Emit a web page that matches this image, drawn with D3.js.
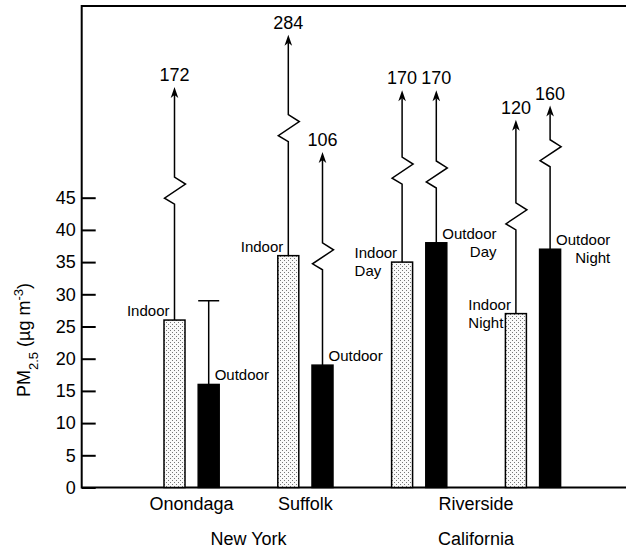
<!DOCTYPE html>
<html lang="en">
<head>
<meta charset="UTF-8">
<title>PM2.5 indoor vs outdoor</title>
<script src="https://d3js.org/d3.v7.min.js"></script>
<style>
body {
  margin: 0;
  background: white;
  font-family: "Liberation Sans", Arial, Helvetica, sans-serif;
}
</style>
</head>
<body>
<div id="chart"></div>
<script>
// site groups along the x axis
var groups = ["Onondaga", "Suffolk", "Riverside Day", "Riverside Night"];
var kinds = ["Indoor", "Outdoor"];

// mean PM2.5 (ug m-3)
var indoorMean = [26, 36, 35, 27];
var outdoorMean = [16, 19, 38, 37];

// maximum values (shown as numbers above the broken lines)
var indoorMax = [172, 284, 170, 120];
var outdoorMax = [29, 106, 170, 160];

// where the broken lines are drawn, in axis units (not to scale above 45)
var indoorBreak = [48.2, 57.9, 51.3, 44.2];
var outdoorBreak = [null, 38.0, 50.7, 54.0];
var indoorTip = [62.2, 70.3, 61.7, 57.1];
var outdoorTip = [null, 52.1, 61.7, 59.3];

// bar labels
var indoorLabels = [["Indoor"], ["Indoor"], ["Indoor", "Day"], ["Indoor", "Night"]];
var outdoorLabels = [["Outdoor"], ["Outdoor"], ["Outdoor", "Day"], ["Outdoor", "Night"]];

// x axis labels
var siteNames = ["Onondaga", "Suffolk", "Riverside"];
var siteGroups = [["Onondaga"], ["Suffolk"], ["Riverside Day", "Riverside Night"]];
var stateNames = ["New York", "California"];
var stateGroups = [["Onondaga", "Suffolk"], ["Riverside Day", "Riverside Night"]];

var yTicks = [0, 5, 10, 15, 20, 25, 30, 35, 40, 45];

var W = 626, H = 550;
var axisX = 81.7, topY = 6, baseY = 487.5;

var svg = d3.select("#chart")
  .append("svg")
    .attr("width", W)
    .attr("height", H);

// stipple pattern for the indoor bars
var pat = svg.append("defs").append("pattern")
    .attr("id", "stipple")
    .attr("patternUnits", "userSpaceOnUse")
    .attr("width", 4)
    .attr("height", 4);
pat.append("rect").attr("width", 4).attr("height", 4).attr("fill", "#fafafa");
pat.append("rect").attr("x", 0).attr("y", 0).attr("width", 1).attr("height", 1).attr("fill", "#777");
pat.append("rect").attr("x", 2).attr("y", 2).attr("width", 1).attr("height", 1).attr("fill", "#777");

var y = d3.scaleLinear()
  .domain([0, 45])
  .range([baseY, 197.7]);

var x0 = d3.scaleBand()
  .domain(groups)
  .range([134.7, 589.9]);

var x1 = d3.scaleBand()
  .domain(kinds)
  .range([0, x0.bandwidth()])
  .paddingInner(0.386)
  .paddingOuter(0.857);

// build rows
var rows = [];
groups.forEach(function(g, i) {
  rows.push({group: g, kind: "Indoor", mean: indoorMean[i], max: indoorMax[i],
             brk: indoorBreak[i], tip: indoorTip[i], label: indoorLabels[i], side: "left"});
  rows.push({group: g, kind: "Outdoor", mean: outdoorMean[i], max: outdoorMax[i],
             brk: outdoorBreak[i], tip: outdoorTip[i], label: outdoorLabels[i], side: "right"});
});
function cx(d) { return x0(d.group) + x1(d.kind) + x1.bandwidth() / 2; }

// y axis
var yAxis = svg.append("g")
  .attr("transform", "translate(" + axisX + ",0)")
  .call(d3.axisLeft(y).tickValues(yTicks).tickSizeInner(-14).tickSizeOuter(0).tickPadding(6));
yAxis.select(".domain").remove();
yAxis.selectAll("line").attr("stroke", "#000").attr("stroke-width", 2);
yAxis.selectAll("text")
  .attr("fill", "#000")
  .style("font-size", "18px")
  .style("font-family", "'Liberation Sans', Arial, sans-serif");

// frame
svg.append("path")
  .attr("d", "M" + W + "," + topY + "H" + axisX + "V" + baseY + "H" + W)
  .attr("fill", "none")
  .attr("stroke", "#000")
  .attr("stroke-width", 2);

// vertical range lines
var zig = [[0, 0], [-10, -6], [11, -20], [0, -27]];
rows.forEach(function(d) {
  var x = cx(d);
  if (d.tip == null) {
    // plain range bar with a cap
    svg.append("line")
      .attr("x1", x).attr("x2", x)
      .attr("y1", y(d.mean)).attr("y2", y(d.max))
      .attr("stroke", "#000").attr("stroke-width", 1.5);
    svg.append("line")
      .attr("x1", x - x1.bandwidth() / 2).attr("x2", x + x1.bandwidth() / 2)
      .attr("y1", y(d.max)).attr("y2", y(d.max))
      .attr("stroke", "#000").attr("stroke-width", 1.5);
    return;
  }
  var zb = y(d.brk) + 27;
  var pts = [[x, y(d.mean)]];
  zig.forEach(function(p) { pts.push([x + p[0], zb + p[1]]); });
  pts.push([x, y(d.tip) + 8]);
  svg.append("path")
    .attr("d", d3.line()(pts))
    .attr("fill", "none")
    .attr("stroke", "#000")
    .attr("stroke-width", 1.5)
    .attr("stroke-linejoin", "miter");
  // arrow head
  svg.append("path")
    .attr("d", "M0,0L-3.8,11L0,8L3.8,11Z")
    .attr("transform", "translate(" + x + "," + y(d.tip) + ")")
    .attr("fill", "#000");
  svg.append("text")
    .attr("x", x)
    .attr("y", y(d.tip) - 6)
    .attr("text-anchor", "middle")
    .style("font-size", "18px")
    .text(d.max);
});

// bars
svg.append("g")
  .selectAll("rect")
  .data(rows)
  .enter()
  .append("rect")
    .attr("x", function(d) { return x0(d.group) + x1(d.kind); })
    .attr("y", function(d) { return y(d.mean); })
    .attr("width", x1.bandwidth())
    .attr("height", function(d) { return baseY - y(d.mean); })
    .attr("fill", function(d) { return d.kind == "Indoor" ? "url(#stipple)" : "#000"; })
    .attr("stroke", "#000")
    .attr("stroke-width", 1.5);

// bar labels
rows.forEach(function(d) {
  var x = cx(d);
  var t = svg.append("text").style("font-size", "15px");
  var spans = d.label.map(function(s, i) {
    return t.append("tspan").attr("y", y(d.mean) - 4 + i * 18).text(s);
  });
  var widths = spans.map(function(s) { return s.node().getComputedTextLength(); });
  var wmax = d3.max(widths);
  spans.forEach(function(s, i) {
    if (d.side == "left") {
      s.attr("x", x - 5 - wmax);
    } else {
      s.attr("x", x + 6 + wmax - widths[i]);
    }
  });
});

// site names
siteNames.forEach(function(n, i) {
  var g = siteGroups[i];
  var c = (x0(g[0]) + x0(g[g.length - 1]) + x0.bandwidth()) / 2;
  svg.append("text")
    .attr("x", c)
    .attr("y", 510)
    .attr("text-anchor", "middle")
    .style("font-size", "18px")
    .text(n);
});

// state names
stateNames.forEach(function(n, i) {
  var g = stateGroups[i];
  var c = (x0(g[0]) + x0(g[g.length - 1]) + x0.bandwidth()) / 2;
  svg.append("text")
    .attr("x", c)
    .attr("y", 545)
    .attr("text-anchor", "middle")
    .style("font-size", "18px")
    .text(n);
});

// y axis title
var yt = svg.append("text")
  .attr("transform", "translate(30,340) rotate(-90)")
  .attr("text-anchor", "middle")
  .style("font-size", "18px");
yt.append("tspan").text("PM");
yt.append("tspan").attr("baseline-shift", "sub").style("font-size", "13px").text("2.5");
yt.append("tspan").text(" (\u00b5g m");
yt.append("tspan").attr("baseline-shift", "super").style("font-size", "13px").text("-3");
yt.append("tspan").text(")");
</script>
</body>
</html>
